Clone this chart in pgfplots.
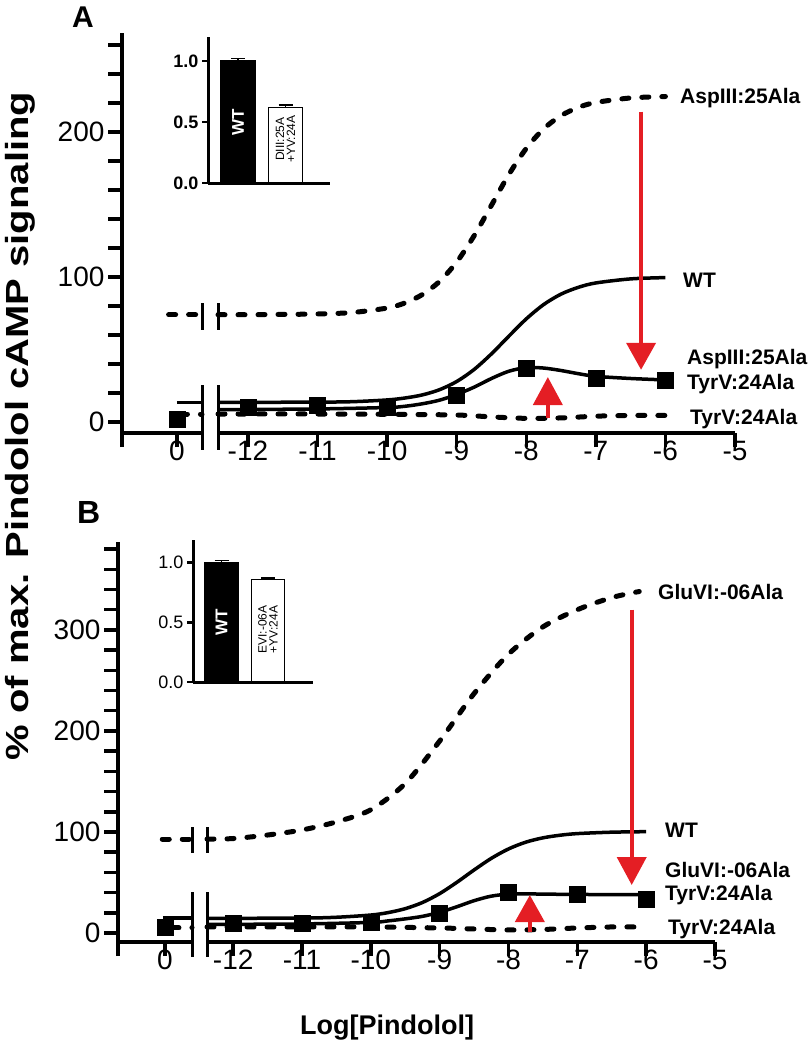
\documentclass[border=0pt]{standalone}
\usepackage{pgfplots}
\pgfplotsset{compat=1.18}
\usepackage{fontspec}
\setmainfont{Liberation Sans}
\usepackage{graphicx}
\usetikzlibrary{arrows.meta}
\definecolor{redc}{RGB}{228,30,36}

\pgfplotsset{
 mainaxis/.style={scale only axis, height=400pt, clip=false, anchor=south west,
   axis x line=bottom, axis line style={line width=4pt,-}, tick style={line width=3.5pt,black},
   major tick length=14pt, minor tick length=14pt, tick align=outside,
   ticklabel style={font=\fontsize{28}{30}\selectfont},
   xticklabel shift=-9.5pt,
   /pgf/number format/assume math mode=true},
 dashedc/.style={line width=5pt, dash pattern=on 7pt off 13pt, line cap=round, black, no marks},
 solidc/.style={line width=3.5pt, black, no marks, smooth},
 marksq/.style={only marks, mark=square*, mark size=8pt, mark options={solid, fill=black, draw=black, line width=0.5pt}},
 inset/.style={scale only axis, anchor=south west, clip=false, axis x line=bottom, axis y line=left,
   axis line style={line width=3pt,-}, xtick=\empty, ytick={0,0.5,1}, yticklabels={0.0,0.5,1.0},
   tick align=outside, major tick length=6pt, tick style={line width=2.5pt,black},
   ybar, bar shift=0pt, /pgf/number format/assume math mode=true},
}
\tikzset{lab/.style={anchor=base west, inner sep=0pt, font=\bfseries\fontsize{21}{23}\selectfont}}

\begin{document}
\begin{tikzpicture}[x=1pt,y=1pt]
\useasboundingbox (0pt,0pt) rectangle (810pt,-1043pt);

% ================= Panel A =================
\begin{axis}[axis y line=left, mainaxis, at={(122pt,-433pt)}, width=80pt, xmin=-0.79, xmax=0.36, ymin=-7.6, ymax=268.3,
  xtick={-0.79,0}, xticklabels={,0},
  ytick={0,20,...,260}, yticklabels={0,,,,,100,,,,,200,,,}]
\addplot[dashedc] coordinates {(-0.12,74)(0.36,74)};
\addplot[solidc] coordinates {(0,13.5)(0.36,13.5)};
\addplot[dashedc] coordinates {(0.05,5.5)(0.36,5.5)};
\addplot[marksq] coordinates {(0,2)};
\end{axis}

\begin{axis}[axis y line=none, mainaxis, at={(218pt,-433pt)}, width=517pt, xmin=-12.43, xmax=-5, ymin=-7.6, ymax=268.3,
  ytick=\empty, xtick={-12,-11,-10,-9,-8,-7,-6,-5},
  xticklabels={-12,-11,-10,-9,-8,-7,-6,-5}]
\addplot[dashedc, smooth] coordinates {(-12.43,74.0)(-12,74.0)(-11.5,74.2)(-11,74.5)(-10.5,75.5)(-10,78.6)(-9.75,82.0)(-9.5,87.7)(-9.25,96.8)(-9,110.3)(-8.75,128.4)(-8.5,149.5)(-8.25,170.7)(-8,188.7)(-7.75,202.2)(-7.5,211.3)(-7.25,217.0)(-7,220.4)(-6.5,223.5)(-6,224.5)};
\addplot[solidc] coordinates {(-12.43,13.5)(-11,13.7)(-10.5,14.0)(-10,15.2)(-9.75,16.5)(-9.5,18.6)(-9.25,22.2)(-9,27.9)(-8.75,36.2)(-8.5,47.0)(-8.25,59.2)(-8,71.1)(-7.75,81.0)(-7.5,88.2)(-7.25,92.9)(-7,95.9)(-6.5,98.7)(-6,99.6)};
\addplot[dashedc, smooth] coordinates {(-12.43,5.5)(-11,5.5)(-10,5.3)(-9,4.8)(-8.5,3.5)(-8,2.5)(-7.5,2.8)(-7,4)(-6.5,4.5)(-6,4.5)};
\addplot[solidc] coordinates {(-12.43,8.5)(-11,9)(-10,10)(-9.75,10.8)(-9.5,12.5)(-9.25,15)(-9,19)(-8.75,24)(-8.5,30)(-8.25,35)(-8,37.5)(-7.75,37.2)(-7.5,35.5)(-7.25,33.3)(-7,31.5)(-6.5,30)(-6,29)};
\addplot[marksq] coordinates {(-12,10)(-11,11.5)(-10,10)(-9,18.5)(-8,37)(-7,30.5)(-6,29)};
\draw[redc, line width=4pt, -{Triangle[length=27pt,width=29pt]}] (axis cs:-6.35,214) -- (axis cs:-6.35,36);
\draw[redc, line width=4pt, -{Triangle[length=28pt,width=29pt]}] (axis cs:-7.69,3) -- (axis cs:-7.69,31);
\end{axis}

% break marks A
\draw[line width=3pt] (202pt,-385pt) -- (202pt,-450pt);
\draw[line width=3pt] (218pt,-385pt) -- (218pt,-450pt);
\draw[line width=3pt] (202pt,-303pt) -- (202pt,-330pt);
\draw[line width=3pt] (218pt,-303pt) -- (218pt,-330pt);

% inset A
\begin{axis}[inset, at={(208pt,-183pt)}, width=122pt, height=146pt, xmin=0, xmax=122, ymin=0, ymax=1.197,
  bar width=34pt, yticklabel style={font=\bfseries\fontsize{18}{20}\selectfont}]
\addplot[fill=black, draw=black, line width=1.5pt, error bars/.cd, y dir=plus, y explicit,
  error bar style={line width=1.5pt}, error mark options={rotate=90, mark size=7pt, line width=1.5pt}]
  coordinates {(30,1.0) +- (0,0.02)};
\addplot[fill=white, draw=black, line width=1.5pt, error bars/.cd, y dir=plus, y explicit,
  error bar style={line width=1.5pt}, error mark options={rotate=90, mark size=7pt, line width=1.5pt}]
  coordinates {(77.5,0.62) +- (0,0.02)};
\node[rotate=90, text=white, font=\bfseries\fontsize{17}{17}\selectfont] at (axis cs:30,0.5) {WT};
\node[rotate=90, align=center, font=\fontsize{12}{11}\selectfont, inner sep=0pt] at (axis cs:77.5,0.36) {DIII:25A\\+YV:24A};
\end{axis}

\node[lab] at (680pt,-104pt) {AspIII:25Ala};
\node[lab] at (683pt,-287pt) {WT};
\node[lab] at (687pt,-364pt) {AspIII:25Ala};
\node[lab] at (687pt,-389pt) {TyrV:24Ala};
\node[lab] at (690pt,-424pt) {TyrV:24Ala};

\node[anchor=base west, inner sep=0pt, font=\bfseries\fontsize{30}{32}\selectfont] at (72pt,-28pt) {A};

% ================= Panel B =================
\begin{axis}[axis y line=left, mainaxis, at={(118pt,-942pt)}, width=74pt, xmin=-0.68, xmax=0.39, ymin=-8.9, ymax=387,
  xtick={-0.68,0}, xticklabels={,0},
  ytick={0,20,...,380}, yticklabels={0,,,,,100,,,,,200,,,,,300,,,,}]
\addplot[dashedc] coordinates {(-0.04,93)(0.39,93)};
\addplot[solidc] coordinates {(-0.03,15)(0.39,15)};
\addplot[dashedc] coordinates {(0.1,5)(0.39,5)};
\addplot[marksq] coordinates {(0,6)};
\end{axis}

\begin{axis}[axis y line=none, mainaxis, at={(207pt,-942pt)}, width=508pt, xmin=-12.38, xmax=-5, ymin=-8.9, ymax=387,
  ytick=\empty, xtick={-12,-11,-10,-9,-8,-7,-6,-5},
  xticklabels={-12,-11,-10,-9,-8,-7,-6,-5}]
\addplot[dashedc, smooth] coordinates {(-12.38,93)(-12,93.5)(-11.5,97)(-11,102)(-10.5,110)(-10,122)(-9.5,148)(-9,190)(-8.5,237)(-8,276)(-7.5,303)(-7,320)(-6.5,332)(-6.1,338)};
\addplot[solidc] coordinates {(-12.38,14.5)(-11,14.8)(-10.5,15.6)(-10,17.8)(-9.75,20.2)(-9.5,24.1)(-9.25,30.2)(-9,39.0)(-8.75,50.2)(-8.5,62.4)(-8.25,73.9)(-8,83.2)(-7.75,89.9)(-7.5,94.2)(-7.25,96.8)(-7,98.4)(-6.5,99.8)(-6,100.3)};
\addplot[dashedc, smooth] coordinates {(-12.38,6)(-11,6)(-10,6)(-9,5)(-8.5,4)(-8,3)(-7.5,3.5)(-7,5)(-6.5,6)(-6.14,6)};
\addplot[solidc] coordinates {(-12.38,8.5)(-11,9)(-10,10.5)(-9.75,12)(-9.5,14)(-9.25,16.5)(-9,20.5)(-8.75,26)(-8.5,32)(-8.25,36.5)(-8,38.5)(-7.75,38.8)(-7.5,38.5)(-7,38.2)(-6.5,38)(-6,38)};
\addplot[marksq] coordinates {(-12,10)(-11,10)(-10,11)(-9,20)(-8,40)(-7,38.5)(-6,33)};
\draw[redc, line width=4pt, -{Triangle[length=28pt,width=29pt]}] (axis cs:-6.21,320) -- (axis cs:-6.21,47.5);
\draw[redc, line width=4pt, -{Triangle[length=27pt,width=29pt]}] (axis cs:-7.69,1) -- (axis cs:-7.69,37.6);
\end{axis}

% break marks B
\draw[line width=3pt] (192pt,-892pt) -- (192pt,-957pt);
\draw[line width=3pt] (207pt,-892pt) -- (207pt,-957pt);
\draw[line width=3pt] (192pt,-827pt) -- (192pt,-853pt);
\draw[line width=3pt] (207pt,-827pt) -- (207pt,-853pt);

% inset B
\begin{axis}[inset, at={(193pt,-682pt)}, width=120pt, height=142pt, xmin=0, xmax=120, ymin=0, ymax=1.19,
  bar width=33pt, yticklabel style={font=\fontsize{18}{20}\selectfont}]
\addplot[fill=black, draw=black, line width=1.5pt, error bars/.cd, y dir=plus, y explicit,
  error bar style={line width=1.5pt}, error mark options={rotate=90, mark size=7pt, line width=1.5pt}]
  coordinates {(28.5,1.0) +- (0,0.02)};
\addplot[fill=white, draw=black, line width=1.5pt, error bars/.cd, y dir=plus, y explicit,
  error bar style={line width=1.5pt}, error mark options={rotate=90, mark size=7pt, line width=1.5pt}]
  coordinates {(75,0.857) +- (0,0.015)};
\node[rotate=90, text=white, font=\bfseries\fontsize{17}{17}\selectfont] at (axis cs:28.5,0.5) {WT};
\node[rotate=90, align=center, font=\fontsize{12}{11}\selectfont, inner sep=0pt] at (axis cs:75,0.44) {EVI:-06A\\+YV:24A};
\end{axis}

\node[lab] at (658pt,-599pt) {GluVI:-06Ala};
\node[lab] at (665pt,-837pt) {WT};
\node[lab] at (665pt,-877pt) {GluVI:-06Ala};
\node[lab] at (665pt,-900pt) {TyrV:24Ala};
\node[lab] at (668pt,-934pt) {TyrV:24Ala};

\node[anchor=base west, inner sep=0pt, font=\bfseries\fontsize{32}{34}\selectfont] at (77pt,-523pt) {B};

% shared labels
\node[rotate=90, inner sep=0pt, font=\bfseries\fontsize{32}{34}\selectfont] at (20pt,-426pt) {\scalebox{1.25}[1]{\% of max. Pindolol cAMP signaling}};
\node[anchor=base, inner sep=0pt, font=\bfseries\fontsize{27}{29}\selectfont] at (387pt,-1034pt) {Log[Pindolol]};
\end{tikzpicture}
\end{document}
